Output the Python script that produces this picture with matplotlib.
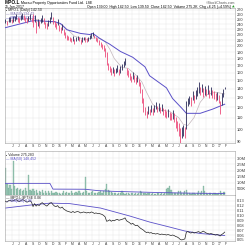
import numpy as np
import pandas as pd
import matplotlib
matplotlib.use('Agg')
import matplotlib.pyplot as plt
import matplotlib.dates as mdates

plt.rcParams['font.family'] = ['Liberation Sans', 'DejaVu Sans']

# ---------------- data (weekly samples) ----------------
first_week = '2014-04-30'
n_weeks = 144

close = [
    246, 243, 248, 250, 247,
    250, 252, 255, 251, 248, 253, 257, 254, 250, 247, 251, 255, 249,
    240, 252, 236,
    244, 238, 248, 252, 246, 240, 235, 243, 250, 256, 248, 241, 236, 244,
    232, 228, 235, 225, 220, 216,
    214, 212, 210, 213, 209, 211, 214, 212, 208, 210, 213, 211, 209, 212, 215, 218, 221, 216, 212, 210,
    206, 203, 199, 196,
    190, 176,
    168, 165, 162, 164, 160, 163, 166, 161, 164,
    168, 172, 176,
    162, 158, 155, 152, 156, 153, 150, 152,
    148, 140, 130, 120,
    116, 113, 117, 115, 118, 116,
    119, 121, 118, 120, 117, 119, 116,
    115, 113, 114, 112, 111, 113,
    110, 106, 103, 100, 95, 97, 99,
    98, 122,
    125, 128, 126, 131, 129, 133, 136,
    140, 137, 141, 135, 138, 136, 139, 134, 137, 135,
    133, 130, 132, 128,
    120,
    130, 136, 142.5,
]
up = [
    5, 4, 6, 5, 4,
    6, 5, 7, 4, 5, 6, 7, 5, 4, 6, 5, 6, 4,
    22, 6, 10,
    6, 8, 5, 6, 7, 5, 8, 6, 5, 9, 6, 5, 7, 6,
    6, 7, 5, 6, 5, 4,
    4, 3, 4, 5, 3, 4, 4, 3, 4, 5, 3, 4, 4, 3, 4, 5, 4, 3, 4, 4,
    4, 4, 5, 5,
    6, 14,
    5, 4, 5, 4, 5, 4, 5, 4, 5,
    4, 5, 5,
    4, 5, 4, 4, 5, 4, 4, 5,
    4, 8, 10, 10,
    4, 3, 4, 3, 4, 3,
    3, 4, 3, 4, 3, 4, 3,
    3, 3, 4, 3, 3, 4,
    4, 5, 4, 5, 6, 5, 4,
    4, 4,
    5, 4, 5, 6, 4, 5, 6,
    8, 5, 4, 6, 5, 4, 5, 4, 5, 4,
    4, 5, 4, 5,
    6,
    5, 4, 0,
]
dn = [
    4, 5, 4, 6, 5,
    5, 6, 4, 7, 5, 4, 6, 5, 6, 4, 5, 6, 5,
    6, 8, 14,
    7, 5, 6, 8, 6, 7, 5, 6, 8, 5, 7, 6, 5, 6,
    6, 5, 6, 5, 6, 5,
    3, 4, 3, 4, 5, 3, 4, 3, 5, 4, 3, 4, 3, 4, 3, 4, 4, 3, 4, 3,
    4, 5, 4, 5,
    8, 6,
    5, 4, 5, 4, 5, 4, 5, 4, 5,
    4, 4, 5,
    5, 4, 5, 4, 4, 5, 4, 4,
    5, 5, 6, 5,
    4, 3, 4, 3, 3, 4,
    4, 3, 3, 4, 3, 3, 4,
    4, 3, 3, 4, 3, 4,
    4, 5, 5, 6, 6, 4, 5,
    5, 22,
    4, 5, 5, 4, 5, 5, 4,
    5, 4, 5, 4, 5, 4, 5, 4, 4, 5,
    5, 4, 5, 4,
    7,
    8, 5, 3,
]

ma50_week = [0, 10, 18, 26, 32, 37, 41, 45, 52, 58, 62, 65, 68, 71, 76, 80, 85, 89,
             92, 96, 101, 107, 113, 116, 119, 123, 127, 131, 137, 143]
ma50_val = [245, 250, 251, 245, 244, 238, 228, 217, 211, 214, 213, 207, 195, 180, 167, 166,
            157, 148, 136, 123, 117, 116, 110, 104, 103, 110, 125, 133, 136, 134]

ma200_week = [0, 18, 32, 36, 40, 49, 55, 57, 62, 68, 75, 83, 91, 94, 105, 109, 115, 118,
              127, 135, 143]
ma200_val = [233, 247, 245, 241, 229, 222, 220, 222, 212, 203, 191, 182, 168, 156, 141,
             129, 119, 114, 114, 118, 123]

volume_m = [
    2.2, 0.9, 0.6, 0.8, 0.5, 2.8, 0.7, 0.5, 0.6, 0.4, 0.5, 0.3, 0.4, 0.6, 0.3, 1.6, 0.4, 0.3,
    0.5, 0.3, 0.4, 0.2, 0.3, 0.25, 0.4, 0.2, 0.3, 0.2, 0.35, 0.2, 0.3, 0.15, 0.2, 0.25, 0.15,
    0.2, 0.1, 0.15, 0.3, 0.2, 0.25, 0.15, 0.2, 0.3, 0.15, 0.2, 0.25, 0.15, 0.35, 0.2, 0.15, 0.25,
    1.45, 0.3, 0.2, 0.15, 0.25, 0.3, 0.2, 0.15, 0.2, 0.25, 0.3, 0.2, 0.35, 0.5, 0.9, 0.4, 0.3, 0.25, 0.2,
    0.15, 0.2, 0.1, 0.15, 0.2, 0.3, 0.15, 0.1, 0.2, 0.15, 0.1, 0.15, 0.2, 0.1, 0.15, 0.1, 0.2, 0.3, 0.25, 0.2,
    0.15, 0.1, 0.15, 0.2, 0.1, 0.15, 0.1, 0.1, 0.15, 0.2, 0.1, 0.15, 0.1, 0.2, 0.5, 0.6, 0.75, 0.4, 0.2, 0.15,
    0.2, 0.15, 0.3, 0.35, 0.2, 0.15, 0.3, 0.4, 0.2, 0.15, 0.1, 0.2, 0.15, 0.1, 0.2, 0.3, 0.15, 0.35, 0.75, 0.3,
    0.15, 0.1, 0.2, 0.15, 0.1, 0.15, 0.2, 0.1, 0.15, 0.3, 0.2, 0.25, 0.28,
]
vol_ma_week = [0, 29, 31, 52, 60, 70, 100, 120, 143]
vol_ma_m = [0.95, 0.95, 0.48, 0.47, 0.36, 0.30, 0.20, 0.15, 0.12]

ratio = [
    0.129, 0.127, 0.130, 0.131, 0.129,
    0.130, 0.131, 0.132, 0.130, 0.128, 0.130, 0.132, 0.131, 0.129, 0.127, 0.128, 0.130, 0.127,
    0.118, 0.124, 0.119,
    0.122, 0.120, 0.124, 0.126, 0.123, 0.121, 0.119, 0.122, 0.125, 0.126, 0.122, 0.119, 0.118, 0.120,
    0.116, 0.115, 0.117, 0.113, 0.111, 0.109,
    0.108, 0.107, 0.106, 0.108, 0.106, 0.107, 0.108, 0.107, 0.105, 0.106, 0.107, 0.106, 0.105, 0.106,
    0.105, 0.107, 0.106, 0.104, 0.105, 0.104,
    0.104, 0.103, 0.102, 0.100,
    0.097, 0.088,
    0.089, 0.091, 0.088, 0.090, 0.089, 0.091, 0.092, 0.090, 0.091,
    0.092, 0.093, 0.095,
    0.089, 0.087, 0.085, 0.082, 0.084, 0.081, 0.079, 0.080,
    0.077, 0.074, 0.072, 0.070,
    0.067, 0.065, 0.066, 0.064, 0.065, 0.063,
    0.063, 0.062, 0.063, 0.062, 0.061, 0.062, 0.061,
    0.061, 0.060, 0.061, 0.060, 0.059, 0.060,
    0.059, 0.057, 0.056, 0.054, 0.051, 0.050, 0.051,
    0.052, 0.066,
    0.067, 0.065, 0.064, 0.066, 0.064, 0.065, 0.066,
    0.067, 0.065, 0.066, 0.068, 0.066, 0.064, 0.063, 0.062, 0.063, 0.062,
    0.061, 0.060, 0.061, 0.060,
    0.058,
    0.061, 0.063, 0.066,
]
ratio_ma_week = [0, 16, 29, 42, 62, 81, 94, 107, 117, 127, 143]
ratio_ma_val = [0.115, 0.121, 0.125, 0.124, 0.115, 0.0988, 0.0865, 0.0763, 0.0682, 0.0631, 0.059]

price_ticks = list(range(90, 280, 10))
vol_ticks = [0.5, 1.0, 1.5, 2.0, 2.5, 3.0]
vol_tick_labels = ['500K', '1.0M', '1.5M', '2.0M', '2.5M', '3.0M']
ratio_ticks = [0.05, 0.06, 0.07, 0.08, 0.09, 0.10, 0.11, 0.12, 0.13]

# ---------------- drawing ----------------
dates = pd.date_range(first_week, periods=n_weeks, freq='7D')
xd = mdates.date2num(dates.to_pydatetime())
close_a = np.array(close, float)
hi = close_a + np.array(up, float)
lo = close_a - np.array(dn, float)

UPC = '#2a2a58'
DNC = '#ec4a7a'
BLUE = '#5a50c8'
GRAYMA = '#c4b6bc'
GRID = '#e4e4e4'
SPINE = '#a0a0a0'
FS = 2.9

fig = plt.figure(figsize=(2.5, 2.49), dpi=100)
ax1 = fig.add_axes([0.02, 0.4257, 0.92, 0.5422])
ax2 = fig.add_axes([0.02, 0.2169, 0.92, 0.1767])
ax3 = fig.add_axes([0.02, 0.0321, 0.92, 0.1848])

xl = (mdates.date2num(pd.Timestamp('2014-04-28')), mdates.date2num(pd.Timestamp('2017-03-13')))
months = pd.date_range('2014-06-01', '2017-02-01', freq='MS')
mx = mdates.date2num(months.to_pydatetime())
mlab = [("%02d" % (m.year % 100)) if m.month == 1 else m.strftime('%b')[0] for m in months]

for ax in (ax1, ax2, ax3):
    ax.set_xlim(*xl)
    ax.yaxis.tick_right()
    ax.tick_params(axis='both', length=0, labelsize=FS, pad=1.2, colors='#333333')
    for s in ax.spines.values():
        s.set_color(SPINE)
        s.set_linewidth(0.4)
    ax.set_xticks(mx)
    ax.grid(True, color=GRID, linewidth=0.3)
    ax.set_axisbelow(True)

# price panel
cols = [UPC] + [UPC if close_a[i] >= close_a[i - 1] else DNC for i in range(1, n_weeks)]
ax1.set_yscale('log')
ax1.set_ylim(89, 274.5)
ax1.set_yticks(price_ticks)
ax1.set_yticklabels([str(t) for t in price_ticks])
ax1.yaxis.set_minor_locator(matplotlib.ticker.NullLocator())
ax1.plot(xd[ma50_week], ma50_val, color=GRAYMA, lw=0.5, zorder=2)
ax1.plot(xd[ma200_week], ma200_val, color=BLUE, lw=0.7, zorder=3)
ax1.vlines(xd, lo, hi, colors=cols, lw=0.6, zorder=4)
ax1.set_xticklabels(mlab, fontsize=2.4)
ax1.tick_params(axis='x', pad=0.8)

ax1.text(0.004, 0.985, '\u25aa MPO.L (Daily) 142.50', transform=ax1.transAxes, fontsize=2.5,
         va='center', ha='left', color='#222222', family=['Liberation Sans', 'DejaVu Sans'])
ax1.text(0.004, 0.956, '\u2014 MA(50) 134.43', transform=ax1.transAxes, fontsize=2.5,
         va='center', ha='left', color='#7a6fb0')
ax1.text(0.004, 0.926, '\u2014 MA(200) 123.09', transform=ax1.transAxes, fontsize=2.5,
         va='center', ha='left', color=BLUE)

# volume panel
ax2.bar(xd, volume_m, width=5, color='#9cc7b6', edgecolor='#6aa58d', linewidth=0.2, zorder=2)
ax2.plot(xd[vol_ma_week], vol_ma_m, color=BLUE, lw=0.6, zorder=3)
ax2.set_ylim(0, 3.6)
ax2.set_yticks(vol_ticks)
ax2.set_yticklabels(vol_tick_labels)
ax2.set_xticklabels([])
ax2.text(0.004, 0.909, '\u25aa Volume 275,283', transform=ax2.transAxes, fontsize=2.5,
         va='center', ha='left', color='#222222', family=['Liberation Sans', 'DejaVu Sans'])
ax2.text(0.004, 0.825, '\u2014 MA(50) 148,452', transform=ax2.transAxes, fontsize=2.5,
         va='center', ha='left', color=BLUE)

# ratio panel
ax3.plot(xd, ratio, color='#222222', lw=0.5, zorder=3)
ax3.plot(xd[ratio_ma_week], ratio_ma_val, color=BLUE, lw=0.6, zorder=2)
ax3.set_ylim(0.0478, 0.1416)
ax3.set_yticks(ratio_ticks)
ax3.set_yticklabels(['%.2f' % t for t in ratio_ticks])
ax3.set_xticklabels(mlab, fontsize=2.4)
ax3.tick_params(axis='x', pad=0.8)
ax3.text(0.004, 0.946, '\u2014 MPO.L:$FTSE 0.06', transform=ax3.transAxes, fontsize=2.5,
         va='center', ha='left', color='#222222')
ax3.text(0.004, 0.87, '\u2014 MA(200) 0.06', transform=ax3.transAxes, fontsize=2.5,
         va='center', ha='left', color=BLUE)

# header
fig.text(0.02, 1 - 3 / 249, 'MPO.L', fontsize=3.4, weight='bold', va='center', ha='left')
fig.text(0.084, 1 - 3 / 249, 'Macau Property Opportunities Fund Ltd.  LSE', fontsize=2.5,
         va='center', ha='left')
fig.text(0.02, 1 - 6.8 / 249, '25-Jan-2017', fontsize=2.5, va='center', ha='left')
fig.text(0.94, 1 - 3 / 249, '\u00a9StockCharts.com', fontsize=2.5, va='center', ha='right',
         color='#555555')
fig.text(0.925, 1 - 6.8 / 249,
         'Open 139.00  High 142.50  Low 139.50  Close 142.50  Volume 275.2K  Chg +6.25 (+4.59%)',
         fontsize=2.5, va='center', ha='right')
fig.text(0.94, 1 - 6.8 / 249, '\u25b2', fontsize=2.5, va='center', ha='right', color='#2a9a2a',
         family=['DejaVu Sans'])

fig.savefig('out.png', dpi=100, facecolor='white')
